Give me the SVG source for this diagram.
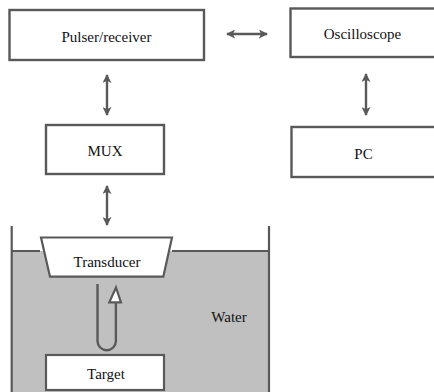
<svg xmlns="http://www.w3.org/2000/svg" width="434" height="392" viewBox="0 0 434 392">
<defs>
<style>
.box{fill:#fff;stroke:#595959;stroke-width:2.4}
.lbl{font-family:'Liberation Serif','DejaVu Serif',serif;font-size:15px;fill:#111;text-anchor:middle}
.conn{stroke:#595959;stroke-width:2.4;fill:none}
</style>
<marker id="ah" viewBox="0 0 10 10" refX="9" refY="5" markerUnits="userSpaceOnUse" markerWidth="9" markerHeight="9" orient="auto-start-reverse">
<path d="M0,0 L10,5 L0,10 L2.5,5 z" fill="#595959"/>
</marker>
</defs>
<rect width="434" height="392" fill="#fff"/>
<g id="tank">
<rect x="11.7" y="251" width="257.3" height="141" fill="#c0c0c0"/>
<path d="M11.7,226 L11.7,392 M269,226 L269,392 M11.7,251 L40,251 M172,251 L269,251" stroke="#595959" stroke-width="2.2" fill="none"/>
</g>
<g id="pulser">
<rect class="box" x="9.5" y="10" width="194.5" height="50"/>
<text class="lbl" x="106.5" y="41.5">Pulser/receiver</text>
</g>
<g id="oscilloscope">
<rect class="box" x="290.5" y="8.5" width="150" height="48.5"/>
<text class="lbl" x="362.5" y="39">Oscilloscope</text>
</g>
<g id="mux">
<rect class="box" x="46" y="125" width="118" height="49"/>
<text class="lbl" x="105" y="156">MUX</text>
</g>
<g id="pc">
<rect class="box" x="291.5" y="127" width="150" height="50"/>
<text class="lbl" x="363.5" y="159">PC</text>
</g>
<g id="transducer">
<polygon points="41,237.5 172,237.5 163.3,276.7 50,276.7" fill="#fff" stroke="#595959" stroke-width="2.2"/>
<text class="lbl" x="107" y="266.5">Transducer</text>
</g>
<g id="target">
<rect x="46" y="355" width="118" height="35" fill="#fff" stroke="#595959" stroke-width="2.2"/>
<text class="lbl" x="106" y="379">Target</text>
</g>
<g id="water">
<text class="lbl" x="229" y="321.5">Water</text>
</g>
<g id="connectors">
<line class="conn" x1="227" y1="34" x2="267" y2="34" marker-start="url(#ah)" marker-end="url(#ah)"/>
<line class="conn" x1="107" y1="75" x2="107" y2="115" marker-start="url(#ah)" marker-end="url(#ah)"/>
<line class="conn" x1="366" y1="74" x2="366" y2="115" marker-start="url(#ah)" marker-end="url(#ah)"/>
<line class="conn" x1="107" y1="186" x2="107" y2="225" marker-start="url(#ah)" marker-end="url(#ah)"/>
<path class="conn" d="M97.5,284 L97.5,341 A9.2,9.2 0 0 0 115.9,341 L115.9,302" stroke-width="2.2"/>
<polygon points="116,287.5 121,302.3 109.3,302.3" fill="#fff" stroke="#595959" stroke-width="2.2" stroke-linejoin="miter"/>
</g>
</svg>
